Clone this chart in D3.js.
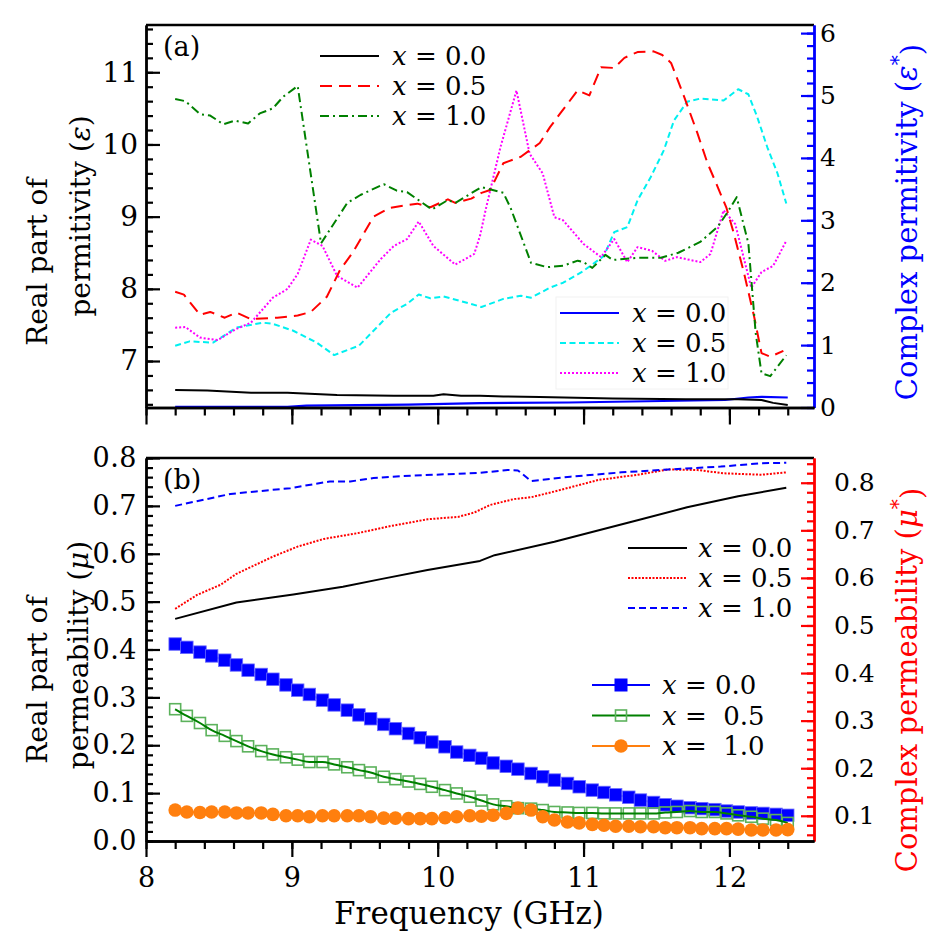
<!DOCTYPE html>
<html><head><meta charset="utf-8">
<script src="https://cdn.jsdelivr.net/npm/d3@7"></script>
<style>
body{margin:0;background:#fff}
svg{display:block}
text{font-family:"DejaVu Serif","Liberation Serif",serif;fill:#000}
</style>
</head><body>
<svg id="c" width="946" height="934"></svg>
<script>
// ---------------- DATA ----------------
// Panel (a): real part of permittivity (left axis)
const epsReal00F = [8.2, 8.42, 8.72, 8.97, 9.31, 9.7, 9.97, 10.04, 10.16, 10.29, 10.45, 10.7, 11.2, 11.7, 12.06, 12.22, 12.3, 12.4];
const epsReal00V = [6.60, 6.59, 6.56, 6.56, 6.53, 6.52, 6.52, 6.54, 6.52, 6.52, 6.51, 6.50, 6.48, 6.47, 6.47, 6.46, 6.42, 6.39];
const epsReal05F = [8.2, 8.26, 8.37, 8.44, 8.54, 8.62, 8.72, 8.9, 9.04, 9.13, 9.24, 9.33, 9.42, 9.56, 9.67, 9.79, 9.86, 9.95, 10.07, 10.12, 10.23, 10.3, 10.36, 10.45, 10.57, 10.7, 10.77, 10.84, 10.96, 11.04, 11.12, 11.21, 11.28, 11.37, 11.48, 11.54, 11.6, 11.69, 11.78, 11.85, 11.92, 11.98, 12.03, 12.1, 12.17, 12.22, 12.28, 12.37];
const epsReal05V = [7.96, 7.92, 7.64, 7.68, 7.60, 7.67, 7.58, 7.60, 7.63, 7.68, 7.89, 8.26, 8.51, 9.0, 9.12, 9.16, 9.18, 9.13, 9.24, 9.19, 9.25, 9.33, 9.37, 9.74, 9.83, 10.02, 10.24, 10.43, 10.75, 10.68, 11.07, 11.06, 11.20, 11.28, 11.29, 11.24, 11.13, 10.66, 10.16, 9.74, 9.41, 9.12, 8.77, 8.22, 7.61, 7.11, 7.06, 7.14];
const epsReal10F = [8.2, 8.27, 8.37, 8.44, 8.53, 8.61, 8.70, 8.78, 8.87, 8.94, 9.04, 9.2, 9.38, 9.47, 9.63, 9.72, 9.79, 9.96, 10.07, 10.12, 10.3, 10.45, 10.5, 10.64, 10.75, 10.86, 10.96, 11.0, 11.06, 11.15, 11.2, 11.37, 11.53, 11.65, 11.8, 11.92, 11.99, 12.05, 12.13, 12.18, 12.22, 12.28, 12.39];
const epsReal10V = [10.63, 10.60, 10.42, 10.40, 10.28, 10.33, 10.29, 10.43, 10.50, 10.66, 10.81, 8.63, 9.19, 9.30, 9.45, 9.36, 9.34, 9.10, 9.23, 9.19, 9.41, 9.33, 9.12, 8.36, 8.30, 8.32, 8.39, 8.37, 8.29, 8.47, 8.40, 8.43, 8.43, 8.50, 8.65, 8.86, 9.07, 9.27, 8.63, 7.39, 6.83, 6.79, 7.08];
// Panel (a): complex permittivity (right axis)
const epsCx00F = [8.2, 8.97, 9.1, 9.8, 10.29, 10.9, 11.97, 12.13, 12.22, 12.4];
const epsCx00V = [0.01, 0.01, 0.03, 0.045, 0.07, 0.08, 0.12, 0.16, 0.17, 0.16];
const epsCx05F = [8.2, 8.3, 8.46, 8.62, 8.8, 8.87, 9.01, 9.17, 9.29, 9.46, 9.56, 9.68, 9.79, 9.87, 9.95, 10.04, 10.23, 10.3, 10.45, 10.57, 10.64, 10.77, 10.86, 11.0, 11.14, 11.21, 11.3, 11.37, 11.46, 11.55, 11.62, 11.71, 11.8, 11.96, 12.06, 12.13, 12.19, 12.26, 12.33, 12.39];
const epsCx05V = [0.99, 1.06, 1.04, 1.28, 1.36, 1.34, 1.23, 1.04, 0.84, 0.99, 1.23, 1.52, 1.66, 1.81, 1.75, 1.78, 1.66, 1.61, 1.74, 1.79, 1.76, 1.92, 2.0, 2.19, 2.43, 2.81, 2.89, 3.32, 3.69, 4.12, 4.6, 4.9, 4.95, 4.92, 5.1, 5.02, 4.66, 4.17, 3.75, 3.27];
const epsCx10F = [8.2, 8.27, 8.37, 8.49, 8.62, 8.72, 8.87, 8.97, 9.04, 9.13, 9.21, 9.31, 9.45, 9.61, 9.70, 9.79, 9.87, 9.97, 10.12, 10.25, 10.29, 10.33, 10.43, 10.54, 10.63, 10.72, 10.8, 10.86, 11.0, 11.12, 11.21, 11.3, 11.37, 11.47, 11.56, 11.64, 11.8, 11.87, 11.96, 12.04, 12.15, 12.22, 12.3, 12.39];
const epsCx10V = [1.28, 1.29, 1.12, 1.08, 1.26, 1.36, 1.76, 1.90, 2.14, 2.69, 2.59, 2.11, 1.92, 2.38, 2.59, 2.70, 2.98, 2.59, 2.29, 2.46, 2.75, 3.18, 4.17, 5.08, 4.07, 3.75, 3.05, 3.0, 2.62, 2.41, 2.70, 2.33, 2.57, 2.51, 2.35, 2.41, 2.33, 2.46, 3.16, 2.94, 1.92, 2.17, 2.27, 2.67];

// Panel (b): real part of permeability (left axis)
const muReal00F = [8.2, 8.62, 9.01, 9.35, 9.61, 9.93, 10.29, 10.39, 10.8, 11.37, 11.71, 12.06, 12.39];
const muReal00V = [0.464, 0.498, 0.515, 0.531, 0.547, 0.566, 0.585, 0.597, 0.625, 0.670, 0.697, 0.720, 0.738];
const muReal05F = [8.2, 8.35, 8.51, 8.62, 8.87, 9.04, 9.22, 9.45, 9.68, 9.93, 10.14, 10.25, 10.36, 10.52, 10.64, 10.8, 11.1, 11.37, 11.58, 11.78, 11.96, 12.22, 12.39];
const muReal05V = [0.485, 0.514, 0.535, 0.558, 0.594, 0.615, 0.631, 0.643, 0.658, 0.672, 0.677, 0.686, 0.702, 0.714, 0.718, 0.730, 0.754, 0.765, 0.776, 0.775, 0.768, 0.765, 0.770];
const muReal10F = [8.2, 8.58, 8.99, 9.26, 9.4, 9.56, 9.74, 10.29, 10.48, 10.55, 10.64, 10.91, 11.26, 11.58, 11.94, 12.22, 12.39];
const muReal10V = [0.700, 0.725, 0.737, 0.751, 0.751, 0.758, 0.762, 0.769, 0.775, 0.774, 0.752, 0.761, 0.770, 0.776, 0.782, 0.789, 0.790];
// Panel (b): complex permeability (right axis), measured frequencies
const muFreq = [8.20, 8.28, 8.37, 8.45, 8.54, 8.62, 8.70, 8.79, 8.87, 8.96, 9.04, 9.12, 9.21, 9.29, 9.38, 9.46, 9.54, 9.63, 9.71, 9.80, 9.88, 9.96, 10.05, 10.13, 10.22, 10.30, 10.38, 10.47, 10.55, 10.64, 10.72, 10.80, 10.89, 10.97, 11.06, 11.14, 11.22, 11.31, 11.39, 11.48, 11.56, 11.64, 11.73, 11.81, 11.90, 11.98, 12.06, 12.15, 12.23, 12.32, 12.40];
const muCx00 = [0.461, 0.454, 0.444, 0.436, 0.427, 0.417, 0.406, 0.397, 0.387, 0.375, 0.364, 0.355, 0.343, 0.333, 0.322, 0.312, 0.304, 0.292, 0.283, 0.273, 0.264, 0.255, 0.245, 0.234, 0.227, 0.221, 0.211, 0.204, 0.198, 0.189, 0.182, 0.175, 0.168, 0.161, 0.154, 0.149, 0.144, 0.139, 0.133, 0.128, 0.123, 0.120, 0.117, 0.115, 0.113, 0.110, 0.108, 0.106, 0.105, 0.103, 0.101];
const muCx05 = [0.324, 0.310, 0.295, 0.280, 0.268, 0.257, 0.246, 0.236, 0.229, 0.223, 0.218, 0.213, 0.213, 0.208, 0.202, 0.196, 0.191, 0.182, 0.177, 0.172, 0.167, 0.161, 0.154, 0.147, 0.140, 0.132, 0.124, 0.120, 0.116, 0.115, 0.112, 0.108, 0.107, 0.106, 0.106, 0.105, 0.105, 0.105, 0.105, 0.105, 0.107, 0.108, 0.110, 0.108, 0.108, 0.105, 0.101, 0.098, 0.094, 0.091, 0.085];
const muCx10 = [0.112, 0.108, 0.107, 0.108, 0.108, 0.106, 0.106, 0.106, 0.103, 0.100, 0.100, 0.098, 0.100, 0.100, 0.100, 0.100, 0.098, 0.095, 0.095, 0.094, 0.094, 0.094, 0.096, 0.098, 0.100, 0.099, 0.101, 0.105, 0.116, 0.112, 0.098, 0.091, 0.087, 0.085, 0.082, 0.080, 0.078, 0.078, 0.077, 0.077, 0.075, 0.075, 0.075, 0.073, 0.073, 0.073, 0.072, 0.070, 0.070, 0.070, 0.071];

// Tick labels
const xTicks = [8, 9, 10, 11, 12];
const epsRealTicks = [7, 8, 9, 10, 11];
const epsCxTicks = [0, 1, 2, 3, 4, 5, 6];
const muRealTicks = [0, 0.1, 0.2, 0.3, 0.4, 0.5, 0.6, 0.7, 0.8];
const muCxTicks = [0.1, 0.2, 0.3, 0.4, 0.5, 0.6, 0.7, 0.8];
const legendLabels = ["0.0", "0.5", "1.0"];

// ---------------- LAYOUT ----------------
const svg = d3.select("#c");
const X0 = 146, X1 = 814;
const TA = {t: 25, b: 407.5}, TB = {t: 458, b: 841};
const x = d3.scaleLinear().domain([8, 12.58]).range([X0, X1]);
const yA = d3.scaleLinear().domain([6.356, 11.655]).range([TA.b, TA.t]);
const yA2 = d3.scaleLinear().domain([0, 6.13]).range([TA.b, TA.t]);
const yB = d3.scaleLinear().domain([0, 0.8]).range([TB.b, TB.t]);
const yB2 = d3.scaleLinear().domain([0.047, 0.852]).range([TB.b, TB.t]);

const BLUE = "#0000ff", RED = "#ff0000", GREEN = "#008000", CYAN = "#00f0f0", MAG = "#ff00ff", ORANGE = "#ff7f0e";

function minorRange(a, b, s) { const out = []; for (let v = a; v <= b + 1e-9; v += s) out.push(+v.toFixed(4)); return out; }

function drawAxis(kind, scale, pos, color, major, minor, majLen, minLen, fmt, fontSize, pad, spacing) {
  const mk = {left: d3.axisLeft, right: d3.axisRight, bottom: d3.axisBottom}[kind];
  const tr = kind === "bottom" ? `translate(0,${pos})` : `translate(${pos},0)`;
  const gm = svg.append("g").attr("transform", tr)
    .call(mk(scale).tickValues(minor).tickSize(minLen).tickSizeOuter(0).tickFormat(""));
  const gM = svg.append("g").attr("transform", tr)
    .call(mk(scale).tickValues(major).tickSize(majLen).tickSizeOuter(0).tickPadding(pad).tickFormat(fmt));
  [gm, gM].forEach(g => {
    g.select(".domain").attr("stroke", color).attr("stroke-width", 2.4);
    g.selectAll(".tick line").attr("stroke", color).attr("stroke-width", 2.2);
    g.selectAll(".tick text").attr("fill", color).style("font-family", '"DejaVu Serif",serif')
      .style("font-size", fontSize + "px").style("letter-spacing", (spacing || 0) + "px");
  });
  return gM;
}

// frames (top lines)
svg.append("line").attr("x1", X0).attr("x2", X1).attr("y1", TA.t).attr("y2", TA.t).attr("stroke", "#000").attr("stroke-width", 2.4);
svg.append("line").attr("x1", X0).attr("x2", X1).attr("y1", TB.t).attr("y2", TB.t).attr("stroke", "#000").attr("stroke-width", 2.4);

// ---------- curves ----------
function path(F, V, ys, color, dash, w, curve) {
  const ln = d3.line().x(d => x(d[0])).y(d => ys(d[1]));
  if (curve) ln.curve(curve);
  svg.append("path").datum(d3.zip(F, V)).attr("d", ln).attr("fill", "none")
    .attr("stroke", color).attr("stroke-width", w || 2).attr("stroke-dasharray", dash || null)
    .attr("stroke-linejoin", "round");
}
path(epsCx00F, epsCx00V, yA2, BLUE, null, 2.2);
path(epsCx05F, epsCx05V, yA2, CYAN, "6,3.5", 2);
path(epsCx10F, epsCx10V, yA2, MAG, "2,2", 2);
path(epsReal00F, epsReal00V, yA, "#000", null, 2);
path(epsReal05F, epsReal05V, yA, RED, "12,7", 2);
path(epsReal10F, epsReal10V, yA, GREEN, "9,4,2,4", 2);

path(muReal00F, muReal00V, yB, "#000", null, 2);
path(muReal05F, muReal05V, yB, RED, "2,1.5", 2);
path(muReal10F, muReal10V, yB, BLUE, "7,4", 2);

const MS = 12.5;
path(muFreq, muCx00, yB2, BLUE, null, 2);
svg.append("g").selectAll("rect").data(d3.zip(muFreq, muCx00)).join("rect")
  .attr("x", d => x(d[0]) - MS / 2).attr("y", d => yB2(d[1]) - MS / 2)
  .attr("width", MS).attr("height", MS).attr("fill", BLUE).attr("stroke", "#6a6aff").attr("stroke-width", 0.8);
svg.append("g").selectAll("rect").data(d3.zip(muFreq, muCx05)).join("rect")
  .attr("x", d => x(d[0]) - 5.5).attr("y", d => yB2(d[1]) - 5.5)
  .attr("width", 11).attr("height", 11).attr("fill", "none").attr("stroke", "#5cb25c").attr("stroke-width", 1.6);
path(muFreq, muCx05, yB2, GREEN, null, 2, d3.curveMonotoneX);
path(muFreq, muCx10, yB2, ORANGE, null, 2);
svg.append("g").selectAll("circle").data(d3.zip(muFreq, muCx10)).join("circle")
  .attr("cx", d => x(d[0])).attr("cy", d => yB2(d[1])).attr("r", 6.8).attr("fill", ORANGE);

// ---------- Axes ----------
const fmt1 = d3.format(".1f");
drawAxis("left", yA, X0, "#000", epsRealTicks, minorRange(6.4, 11.6, 0.2), -14, -7, d3.format("d"), 28, 8, 0);
drawAxis("right", yA2, X1, BLUE, epsCxTicks, minorRange(0, 6.0, 0.2), -13, -7, d3.format("d"), 25, 6);
drawAxis("bottom", x, TA.b, "#000", xTicks, minorRange(8, 12.4, 0.2), 17, 8, () => "", 26, 8);
drawAxis("left", yB, X0, "#000", muRealTicks, minorRange(0, 0.8, 0.02), -14, -7, fmt1, 27, 9, 0.5);
drawAxis("right", yB2, X1, RED, muCxTicks, minorRange(0.06, 0.84, 0.02), -13, -7, fmt1, 25, 20, 0.5);
drawAxis("bottom", x, TB.b, "#000", xTicks, minorRange(8, 12.4, 0.2), 16, 8, d3.format("d"), 27, 11);

// ---------- Legends ----------
function legendText(xp, yp, label, size, extra) {
  const t = svg.append("text").attr("x", xp).attr("y", yp).attr("dy", "0.35em").style("font-size", size + "px");
  t.append("tspan").style("font-style", "italic").text("x");
  t.append("tspan").text(" =" + (extra ? "\u00a0\u00a0" : " ") + label);
}
[["#000", null], [RED, "12,7"], [GREEN, "9,4,2,4"]].forEach((s, i) => {
  const yy = 56 + i * 30;
  svg.append("line").attr("x1", 320).attr("x2", 379).attr("y1", yy).attr("y2", yy)
    .attr("stroke", s[0]).attr("stroke-width", 2).attr("stroke-dasharray", s[1]);
  legendText(392, yy, legendLabels[i], 26);
});
svg.append("rect").attr("x", 556).attr("y", 297).attr("width", 172).attr("height", 92)
  .attr("fill", "#fff").attr("stroke", "#f2f2f2").attr("stroke-width", 1);
[[BLUE, null], [CYAN, "6,3.5"], [MAG, "2,2"]].forEach((s, i) => {
  const yy = 313 + i * 30;
  svg.append("line").attr("x1", 560).attr("x2", 619).attr("y1", yy).attr("y2", yy)
    .attr("stroke", s[0]).attr("stroke-width", 2).attr("stroke-dasharray", s[1]);
  legendText(632, yy, legendLabels[i], 26);
});
[["#000", null], [RED, "2,1.5"], [BLUE, "7,4"]].forEach((s, i) => {
  const yy = 548 + i * 30;
  svg.append("line").attr("x1", 628).attr("x2", 687).attr("y1", yy).attr("y2", yy)
    .attr("stroke", s[0]).attr("stroke-width", 2).attr("stroke-dasharray", s[1]);
  legendText(698, yy, legendLabels[i], 26);
});
[BLUE, GREEN, ORANGE].forEach((c, i) => {
  const yy = 685 + i * 30.5;
  svg.append("line").attr("x1", 592).attr("x2", 650).attr("y1", yy).attr("y2", yy).attr("stroke", c).attr("stroke-width", 2);
  if (i === 0) svg.append("rect").attr("x", 621 - 6.5).attr("y", yy - 6.5).attr("width", 13).attr("height", 13).attr("fill", BLUE);
  if (i === 1) svg.append("rect").attr("x", 621 - 5.5).attr("y", yy - 5.5).attr("width", 11).attr("height", 11).attr("fill", "none").attr("stroke", "#5cb25c").attr("stroke-width", 1.6);
  if (i === 2) svg.append("circle").attr("cx", 621).attr("cy", yy).attr("r", 6.8).attr("fill", ORANGE);
  legendText(662, yy, legendLabels[i], 26, i > 0);
});

// ---------- Panel labels & titles ----------
svg.append("text").attr("x", 163).attr("y", 56).style("font-size", "27px").text("(a)");
svg.append("text").attr("x", 163).attr("y", 489).style("font-size", "27px").text("(b)");

function vtitle(xp, yp, parts, size, color) {
  const t = svg.append("text").attr("transform", `translate(${xp},${yp}) rotate(-90)`)
    .attr("text-anchor", "middle").style("font-size", size + "px").style("fill", color || "#000");
  parts.forEach(p => {
    const s = t.append("tspan").text(p.t);
    if (p.i) s.style("font-style", "italic");
    if (p.sup) s.attr("dy", "-0.6em").style("font-size", (size * 0.7) + "px");
    if (p.down) s.attr("dy", "0.6em");
  });
}
vtitle(47, 262, [{t: "Real part of"}], 28);
vtitle(90, 216, [{t: "permitivity ("}, {t: "ε", i: true}, {t: ")"}], 28);
vtitle(47, 680, [{t: "Real part of"}], 28);
vtitle(88, 655, [{t: "permeability ("}, {t: "μ", i: true}, {t: ")"}], 28);
vtitle(917, 222, [{t: "Complex permitivity ("}, {t: "ε", i: true}, {t: "*", sup: true}, {t: ")", down: true}], 29, BLUE);
vtitle(917, 680, [{t: "Complex permeability ("}, {t: "μ", i: true}, {t: "*", sup: true}, {t: ")", down: true}], 29, RED);

svg.append("text").attr("x", 469).attr("y", 924).attr("text-anchor", "middle").style("font-size", "31px").text("Frequency (GHz)");
</script>
</body></html>
